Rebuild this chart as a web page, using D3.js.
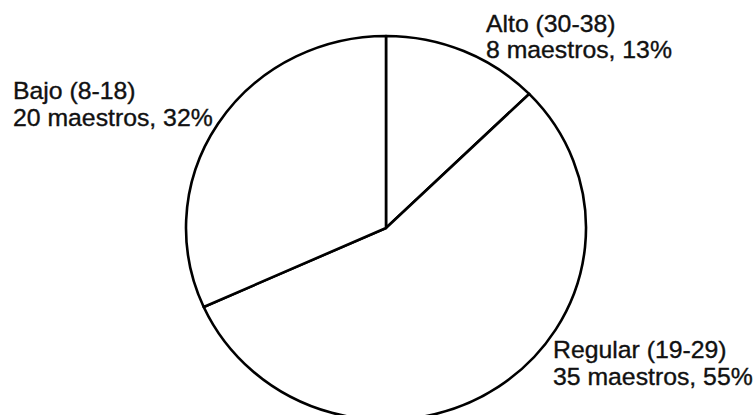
<!DOCTYPE html>
<html>
<head>
<meta charset="utf-8">
<script src="https://cdn.jsdelivr.net/npm/d3@7"></script>
<style>
  html, body { margin: 0; padding: 0; background: #fff; }
  svg text { font-family: "Liberation Sans", Arial, sans-serif; fill: #111; }
</style>
</head>
<body>
<svg id="chart" width="756" height="415"></svg>
<script>
// Teachers grouped by score level
const categories = ["Alto (30-38)", "Regular (19-29)", "Bajo (8-18)"];
const counts = [8, 35, 20];
const percents = ["13%", "55%", "32%"];

const svg = d3.select("#chart");
const cx = 386, cy = 228, rx = 200, ry = 192;

const pie = d3.pie().sort(null).value(d => d)
  .startAngle(0).endAngle(2 * Math.PI);
const arcs = pie(counts);
const arc = d3.arc().innerRadius(0).outerRadius(rx);

const g = svg.append("g")
  .attr("transform", `translate(${cx},${cy}) scale(1,${ry / rx})`);

g.selectAll("path")
  .data(arcs)
  .join("path")
  .attr("d", arc)
  .attr("fill", "#fff")
  .attr("stroke", "#000")
  .attr("stroke-width", 2.6)
  .attr("stroke-linejoin", "round")
  .attr("vector-effect", "non-scaling-stroke");

// Label anchor for each slice
const labelPos = [
  { x: 486, y: 31.7 },
  { x: 553, y: 358.3 },
  { x: 13, y: 99.3 }
];

const labels = svg.append("g");
categories.forEach((c, i) => {
  const t = labels.append("text")
    .attr("transform", `translate(${labelPos[i].x},${labelPos[i].y}) scale(1.055,1)`)
    .attr("font-size", 23.5)
    .attr("stroke", "#111")
    .attr("stroke-width", 0.35);
  t.append("tspan").attr("x", 0).text(c);
  t.append("tspan").attr("x", 0).attr("dy", 26.8)
    .text(`${counts[i]} maestros, ${percents[i]}`);
});
</script>
</body>
</html>
